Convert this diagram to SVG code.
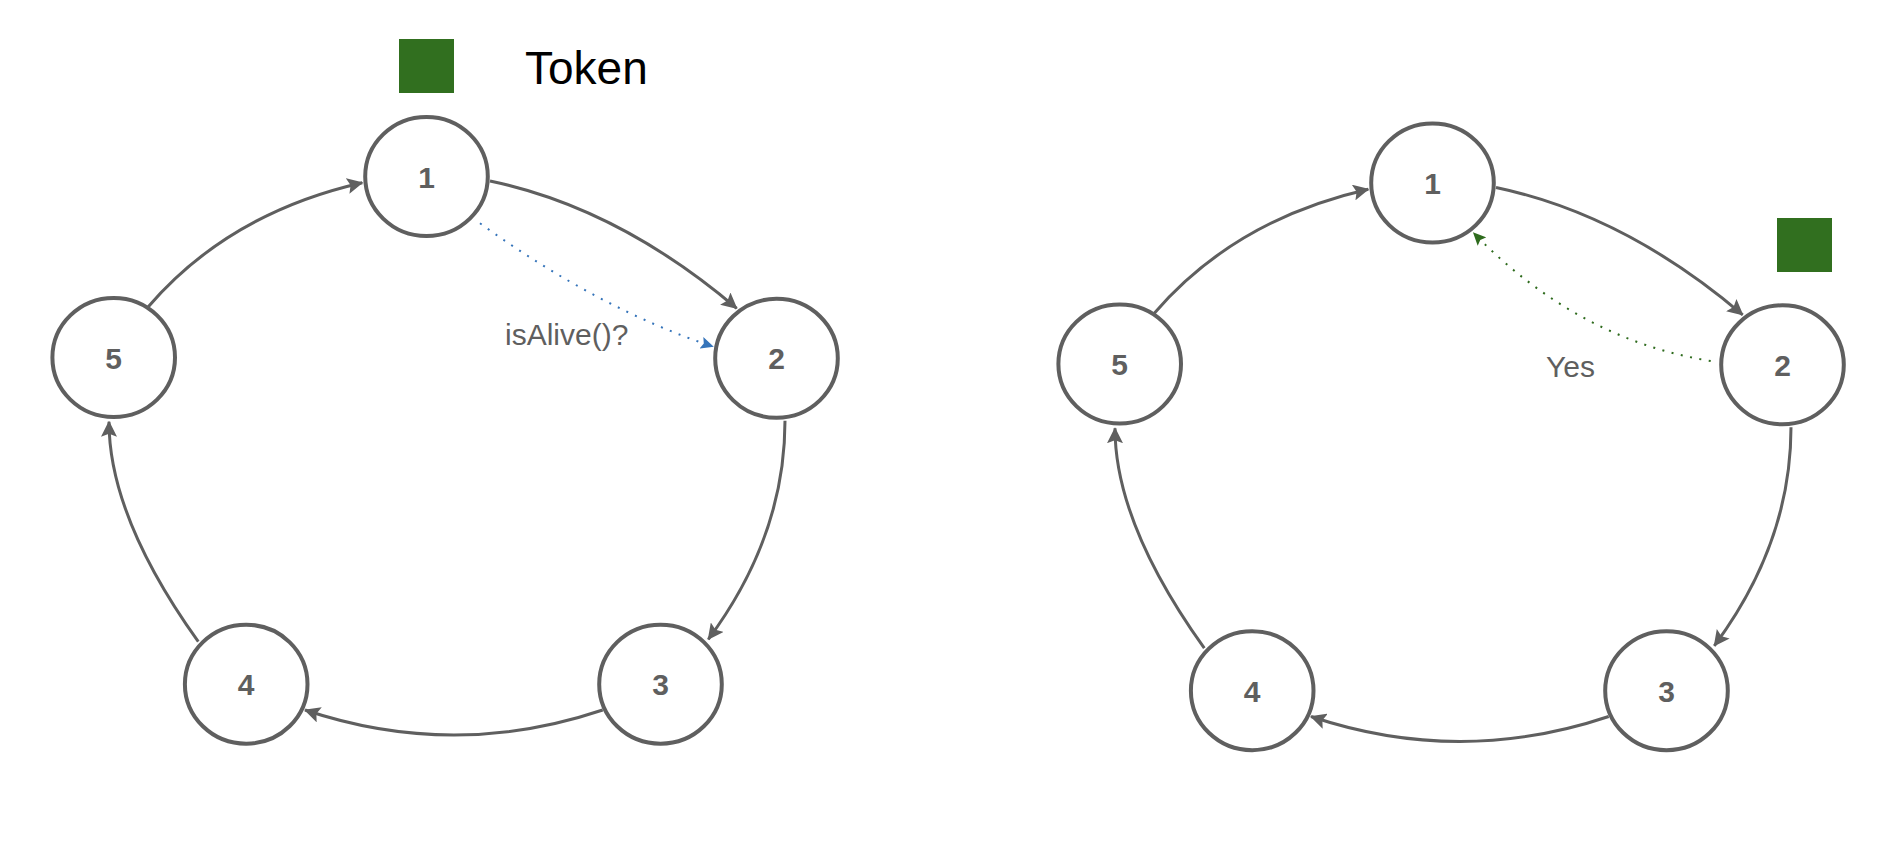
<svg xmlns="http://www.w3.org/2000/svg" width="1888" height="848" viewBox="0 0 1888 848">
  <style>
    .node ellipse { fill: #ffffff; stroke: #5f5f5f; stroke-width: 4; }
    .node text { font-family: "Liberation Sans", Arial, sans-serif; font-size: 30px; font-weight: bold; fill: #5f5f5f; text-anchor: middle; }
    .edge { fill: none; stroke: #5f5f5f; stroke-width: 3; marker-end: url(#arrow); }
    .probe { fill: none; stroke: #3574ba; stroke-width: 2; stroke-dasharray: 2 7.5; marker-end: url(#arrowBlue); }
    .reply { fill: none; stroke: #2e6b1d; stroke-width: 2; stroke-dasharray: 2 7.5; marker-end: url(#arrowGreen); }
    .label { font-family: "Liberation Sans", Arial, sans-serif; font-size: 30px; fill: #5f5f5f; }
    .token { fill: #316f1f; }
  </style>
  <defs>
    <marker id="arrow" markerUnits="userSpaceOnUse" viewBox="0 0 16 16" markerWidth="16" markerHeight="16" refX="15" refY="8" orient="auto">
      <path d="M0,0 L16,8 L0,16 L3,8 Z" fill="#5f5f5f"/>
    </marker>
    <marker id="arrowBlue" markerUnits="userSpaceOnUse" viewBox="0 0 13 12" markerWidth="13" markerHeight="12" refX="12.5" refY="6" orient="auto">
      <path d="M0,0 L13,6 L0,12 L2.5,6 Z" fill="#3574ba"/>
    </marker>
    <marker id="arrowGreen" markerUnits="userSpaceOnUse" viewBox="0 0 13 12" markerWidth="13" markerHeight="12" refX="12.5" refY="6" orient="auto">
      <path d="M0,0 L13,6 L0,12 L2.5,6 Z" fill="#2e6b1d"/>
    </marker>
  </defs>
  <rect width="1888" height="848" fill="#ffffff"/>

  <g id="legend">
    <rect class="token" x="399" y="39" width="55" height="54"/>
    <text x="525" y="84" font-family="Liberation Sans, Arial, sans-serif" font-size="46" fill="#000000">Token</text>
  </g>

  <g id="connectors">
    <g id="connectors-left">
      <path class="edge" d="M490,181 Q618.75,208 736.7,308.3"/>
      <path class="edge" d="M785,420.7 Q785,536 708.3,639.3"/>
      <path class="edge" d="M602.7,710 Q453.8,760 305,710"/>
      <path class="edge" d="M198.3,641.7 Q109,517 109,421.7"/>
      <path class="edge" d="M148.3,306.7 Q229,213 362.3,182.7"/>
      <path class="probe" d="M480,223.3 Q599,309 713.3,346.7"/>
      <text class="label" x="505" y="345">isAlive()?</text>
    </g>
    <g id="connectors-right" transform="translate(1006,6.5)">
      <path class="edge" d="M490,181 Q618.75,208 736.7,308.3"/>
      <path class="edge" d="M785,420.7 Q785,536 708.3,639.3"/>
      <path class="edge" d="M602.7,710 Q453.8,760 305,710"/>
      <path class="edge" d="M198.3,641.7 Q109,517 109,421.7"/>
      <path class="edge" d="M148.3,306.7 Q229,213 362.3,182.7"/>
    </g>
    <path class="reply" d="M1710.7,361 Q1577,339.6 1473.3,232.7"/>
    <text class="label" x="1546" y="377">Yes</text>
  </g>

  <g id="ring-left">
    <g id="L1" class="node"><ellipse cx="426.5" cy="176.5" rx="61.3" ry="59.5"/><text x="426.5" y="187.5">1</text></g>
    <g id="L2" class="node"><ellipse cx="776.5" cy="358.3" rx="61.3" ry="59.5"/><text x="776.5" y="369.3">2</text></g>
    <g id="L3" class="node"><ellipse cx="660.5" cy="684.2" rx="61.3" ry="59.5"/><text x="660.5" y="695.2">3</text></g>
    <g id="L4" class="node"><ellipse cx="246.2" cy="684.2" rx="61.3" ry="59.5"/><text x="246.2" y="695.2">4</text></g>
    <g id="L5" class="node"><ellipse cx="113.7" cy="357.5" rx="61.3" ry="59.5"/><text x="113.7" y="368.5">5</text></g>
  </g>

  <g id="ring-right" transform="translate(1006,6.5)">
    <g id="R1" class="node"><ellipse cx="426.5" cy="176.5" rx="61.3" ry="59.5"/><text x="426.5" y="187.5">1</text></g>
    <g id="R2" class="node"><ellipse cx="776.5" cy="358.3" rx="61.3" ry="59.5"/><text x="776.5" y="369.3">2</text></g>
    <g id="R3" class="node"><ellipse cx="660.5" cy="684.2" rx="61.3" ry="59.5"/><text x="660.5" y="695.2">3</text></g>
    <g id="R4" class="node"><ellipse cx="246.2" cy="684.2" rx="61.3" ry="59.5"/><text x="246.2" y="695.2">4</text></g>
    <g id="R5" class="node"><ellipse cx="113.7" cy="357.5" rx="61.3" ry="59.5"/><text x="113.7" y="368.5">5</text></g>
  </g>

  <g id="token-right">
    <rect class="token" x="1777" y="218" width="55" height="54"/>
  </g>
</svg>
